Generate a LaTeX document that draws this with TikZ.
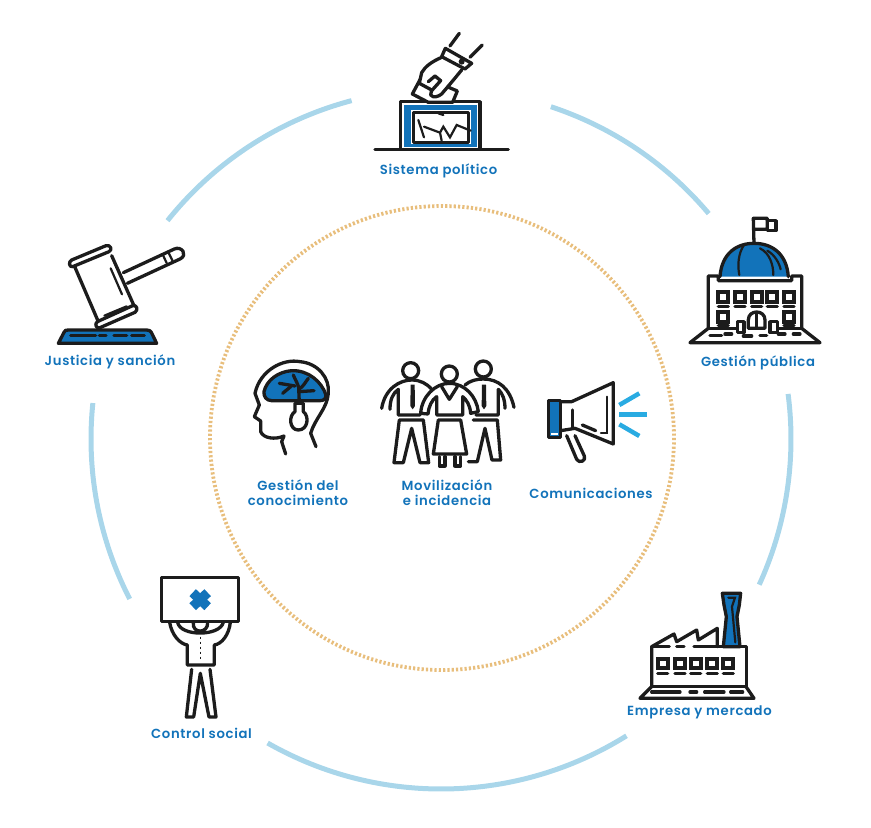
\documentclass[tikz,border=0pt]{standalone}
\usepackage{fontspec}
\setmainfont{Poppins}[LetterSpace=5, BoldFont={Poppins SemiBold}]
\definecolor{ringblue}{HTML}{A9D6EA}
\definecolor{ringtan}{HTML}{E8BE7C}
\definecolor{iconblue}{HTML}{1273BA}
\definecolor{rayblue}{HTML}{29ABE2}
\definecolor{iconblack}{HTML}{1C1C1C}
\tikzset{
  ringarc/.style={draw=ringblue, line width=5pt},
  iconline/.style={draw=iconblack, line width=3.3pt, line join=round, line cap=round},
  windowline/.style={draw=iconblack, line width=4.2pt},
  thinline/.style={draw=iconblack, line width=2.2pt, line cap=round},
  iconlabel/.style={text=iconblue, font=\fontsize{13.2}{15}\selectfont\bfseries, align=center, inner sep=0},
  zoomed/.style={x=0.3333pt, y=-0.3333pt},
}
\begin{document}
\begin{tikzpicture}[x=1pt, y=-1pt]
      \useasboundingbox (0,0) rectangle (871,828);
      \coordinate (center) at (441,439);
      \foreach \a/\b in {-71.7/-40.1, -7.4/24.6, 58/119.7, 152.8/185.9, 218.6/255.2}
        \draw [ringarc] (center) ++(\a:350) arc [start angle=\a, end angle=\b, radius=350];
      \draw [draw=ringtan, line width=3.8pt, dash pattern=on 2.2pt off 2.1pt] (442,438) circle [radius=232];
      % sistema politico
      \begin{scope}[shift={(360,20)}, zoomed]
        \draw [iconline] (122,388) -- (122,245) -- (360,245) -- (360,388);
        \fill [iconblue] (132,256) rectangle (351,381);
        \fill [white] (152,269) rectangle (333,372);
        \draw [iconline] (160,277) rectangle (325,368);
        \draw [iconline] (45,388) -- (445,388);
        \draw [thinline] (175,300) -- (192,352);
        \draw [thinline] (192,320) -- (240,338) -- (245,362);
        \draw [thinline] (240,338) -- (250,320) -- (270,352) -- (290,315) -- (332,332);
        \draw [thinline] (235,280) -- (250,285);
        \draw [iconline, fill=white] (186,168) -- (157,222) -- (205,247) -- (278,247) -- (292,213) -- cycle;
        \draw [iconline, fill=white] (245,112) .. controls (215,125) and (195,140) .. (185,158) -- (178,190) -- (215,210) -- (212,225) .. controls (220,235) and (235,230) .. (245,222) -- (282,178) -- (305,150);
        \draw [iconline] (215,212) -- (242,182) -- (225,168) -- (205,185);
        \draw [iconline, fill=white] (256,85) -- (335,130) -- (315,147) -- (245,110) -- cycle;
        \fill [iconblack] (305,125) circle [radius=9];
        \draw [iconline] (270,78) -- (298,40);
        \draw [iconline] (330,112) -- (367,75);
      \end{scope}
      % gestion publica
      \begin{scope}[shift={(680,210)}, zoomed]
        \draw [iconline] (222,100) -- (220,25) -- (262,25) -- (262,58) -- (222,58);
        \draw [iconline] (262,32) -- (288,32) -- (288,62) -- (262,62);
        \fill [iconblue] (120,200) .. controls (125,130) and (170,100) .. (222,100) .. controls (275,100) and (320,130) .. (325,200) -- cycle;
        \draw [iconline] (120,200) .. controls (125,130) and (170,100) .. (222,100) .. controls (275,100) and (320,130) .. (325,200);
        \draw [thinline] (192,105) .. controls (175,130) and (172,165) .. (178,195);
        \draw [thinline] (240,115) .. controls (270,130) and (280,165) .. (280,195);
        \draw [thinline] (262,122) .. controls (285,135) and (298,160) .. (302,178);
        \draw [iconline] (30,398) -- (85,355) -- (85,198) -- (115,198) -- (115,212) -- (335,212) -- (335,198) -- (365,198) -- (365,355) -- (420,398) -- cycle;
        \draw [iconline] (85,355) -- (172,355);
        \draw [iconline] (292,355) -- (365,355);
        \foreach \x in {115,165,215,262,312} {
          \draw [windowline] (\x,245) rectangle ++(30,30);
          \draw [iconline] (\x,289) -- ++(30,0);
        }
        \foreach \x in {115,312} {
          \draw [windowline] (\x,305) rectangle ++(30,30);
          \draw [iconline] (\x,347) -- ++(30,0);
        }
        \draw [iconline] (205,355) -- (205,330) .. controls (205,298) and (255,298) .. (255,330) -- (255,355) -- cycle;
        \draw [iconline] (230,310) -- (230,355);
        \draw [iconline, fill=white] (172,335) rectangle (192,368);
        \draw [iconline, fill=white] (270,335) rectangle (292,368);
        \foreach \x/\y/\w in {90/376/35, 135/372/20, 190/378/25, 240/376/20, 295/372/20, 340/372/20}
          \draw [iconline] (\x,\y) -- ++(\w,0);
      \end{scope}
      % empresa y mercado
      \begin{scope}[shift={(620,585)}, zoomed]
        \draw [iconline, fill=iconblue] (307,25) -- (362,25) -- (358,60) -- (351,95) -- (360,185) -- (310,185) -- (319,95) -- (312,60) -- cycle;
        \draw [thinline] (325,38) -- (345,38) -- (336,65) -- (346,172);
        \draw [iconline] (95,305) -- (95,185) -- (162,147) -- (170,170) -- (230,135) -- (235,165) -- (292,130) -- (292,185);
        \draw [iconline] (95,185) -- (148,185);
        \draw [iconline] (170,185) -- (192,185);
        \draw [iconline] (222,185) -- (380,185) -- (380,305) -- (95,305);
        \foreach \x in {113,165,212,262,310} {
          \draw [windowline] (\x,222) rectangle ++(30,28);
          \draw [iconline] (\x,265) -- ++(30,0);
        }
        \draw [iconline] (95,305) -- (60,340) -- (402,340) -- (378,305);
        \foreach \x/\w in {95/85, 210/20, 254/58, 332/36}
          \draw [iconline] (\x,321) -- ++(\w,0);
      \end{scope}
      % control social
      \begin{scope}[shift={(145,570)}, zoomed]
        \draw [iconline] (50,22) rectangle (280,155);
        \draw [iconblue, line width=9.5pt] (143,68) -- (188,110);
        \draw [iconblue, line width=9.5pt] (188,68) -- (143,110);
        \draw [iconline] (74,157) .. controls (80,195) and (105,222) .. (127,225) -- (127,285) -- (208,285) -- (208,225) .. controls (230,222) and (252,195) .. (256,157);
        \draw [iconline] (98,157) .. controls (105,200) and (225,200) .. (235,157);
        \draw [iconline] (145,157) .. controls (140,192) and (190,192) .. (188,157);
        \draw [iconline, line width=1.4pt, dash pattern=on 2pt off 3pt, line cap=butt] (167,200) -- (167,272);
        \draw [iconline] (140,298) -- (124,441) -- (146,441) -- (166,310) -- (192,441) -- (213,441) -- (195,298);
      \end{scope}
      % justicia y sancion
      \begin{scope}[shift={(40,235)}, zoomed]
        \draw [iconline] (105,97) -- (175,260);
        \draw [iconline] (215,62) -- (282,212);
        \draw [iconline] (98,95) -- (207,50) .. controls (218,45) and (212,28) .. (198,32) -- (95,75) .. controls (84,80) and (88,98) .. (98,95);
        \draw [iconline] (180,278) -- (285,232) .. controls (296,225) and (290,208) .. (278,212) -- (172,260) .. controls (162,268) and (170,282) .. (180,278);
        \draw [thinline] (212,100) -- (246,178);
        \draw [thinline] (193,242) -- (260,214);
        \draw [iconline] (250,113) -- (403,42) .. controls (425,32) and (445,60) .. (420,72) -- (262,145);
        \draw [thinline] (368,58) -- (380,84);
        \draw [thinline] (385,52) -- (397,76);
        \draw [iconline, fill=iconblue] (55,325) -- (72,292) .. controls (74,286) and (78,285) .. (85,285) -- (320,285) .. controls (328,285) and (332,288) .. (334,292) -- (350,325) -- cycle;
        \foreach \x/\w in {92/75, 178/20, 222/38, 275/38}
          \draw [iconline] (\x,302) -- ++(\w,0);
      \end{scope}
      % gestion del conocimiento
      \begin{scope}[shift={(240,350)}, zoomed]
        \draw [iconline, fill=iconblue] (72,125) .. controls (80,90) and (115,65) .. (155,62) .. controls (205,60) and (245,95) .. (258,135) .. controls (258,148) and (250,152) .. (240,152) -- (95,152) .. controls (80,152) and (70,140) .. (72,125) -- cycle;
        \draw [iconline] (45,130) .. controls (60,60) and (130,25) .. (180,35) .. controls (235,40) and (270,85) .. (265,130) .. controls (262,175) and (225,205) .. (212,250) -- (228,290);
        \draw [iconline] (45,130) -- (58,165) -- (43,200) -- (62,213) -- (62,245) .. controls (70,265) and (105,270) .. (132,258) -- (125,275) -- (137,312);
        \draw [iconline] (178,160) -- (176,112) .. controls (172,98) and (165,88) .. (160,75);
        \draw [iconline] (176,118) .. controls (190,110) and (195,98) .. (205,85);
        \draw [iconline] (165,108) -- (118,100);
        \draw [iconline] (152,110) -- (128,130);
        \draw [iconline] (176,125) -- (222,122);
        \draw [iconline] (165,160) -- (190,160) -- (190,185) .. controls (208,197) and (205,240) .. (175,240) .. controls (148,240) and (145,197) .. (165,185) -- cycle;
      \end{scope}
      % movilizacion
      \begin{scope}[shift={(370,350)}, zoomed]
        \draw [iconline] (122,62) circle [radius=24];
        \draw [iconline] (238,72) circle [radius=24];
        \draw [iconline] (340,57) circle [radius=24];
        \draw [iconline] (35,175) .. controls (45,115) and (90,90) .. (125,90) .. controls (150,90) and (170,100) .. (185,118);
        \draw [iconline] (60,178) .. controls (60,150) and (68,130) .. (85,118) -- (85,195) -- (150,195);
        \draw [iconline] (285,105) .. controls (300,92) and (320,87) .. (340,87) .. controls (385,87) and (420,115) .. (432,172);
        \draw [iconline] (405,175) .. controls (405,150) and (398,130) .. (385,118) -- (385,195) -- (318,195);
        \draw [iconline] (88,210) -- (160,210) -- (176,338) -- (150,338) -- (125,235) -- (100,338) -- (72,338) -- cycle;
        \draw [iconline] (310,210) -- (382,210) -- (392,330) -- (366,330) -- (345,235) -- (322,335) -- (295,335);
        \fill [iconblack] (122,104) -- (134,104) -- (135,168) -- (128,178) -- (121,168) -- cycle;
        \fill [iconblack] (336,104) -- (348,104) -- (349,168) -- (342,178) -- (335,168) -- cycle;
        \draw [iconline, fill=white] (152,190) .. controls (155,140) and (195,100) .. (238,100) .. controls (285,100) and (320,140) .. (325,185) -- (302,190) .. controls (300,165) and (290,150) .. (278,140) -- (278,195) -- (200,195) -- (200,140) .. controls (185,150) and (176,170) .. (174,192) -- cycle;
        \draw [iconline] (215,110) -- (238,148) -- (262,110);
        \draw [iconline, fill=white] (205,210) -- (272,210) -- (290,312) -- (190,312) -- cycle;
        \draw [iconline] (208,320) -- (208,348) -- (225,348) -- (225,320);
        \draw [iconline] (255,320) -- (255,348) -- (272,348) -- (272,320);
      \end{scope}
      % comunicaciones
      \begin{scope}[shift={(525,370)}, zoomed]
        \fill [iconblue] (72,95) rectangle (104,200);
        \fill [white] (78,188) rectangle (100,195);
        \draw [iconline] (70,92) rectangle (107,203);
        \draw [iconline] (107,95) -- (140,95) -- (265,38) -- (265,222) -- (150,175) -- (107,182);
        \draw [iconline] (142,120) -- (142,175);
        \draw [iconline] (172,165) -- (212,182);
        \draw [thinline] (245,80) -- (245,190) -- (228,190);
        \draw [iconline] (125,197) -- (155,268) .. controls (162,282) and (185,272) .. (178,258) -- (150,197);
        \draw [rayblue, line width=4.5pt] (283,105) -- (343,70);
        \draw [rayblue, line width=4.5pt] (283,134) -- (367,134);
        \draw [rayblue, line width=4.5pt] (283,163) -- (343,198);
      \end{scope}
      \node [iconlabel, anchor=base] (politico) at (438.5,174) {Sistema político};
      \node [iconlabel, anchor=base] (publica) at (758,366) {Gestión pública};
      \node [iconlabel, anchor=base] (empresa) at (699.5,715) {Empresa y mercado};
      \node [iconlabel, anchor=base] (control) at (201.5,738) {Control social};
      \node [iconlabel, anchor=base] (justicia) at (110,365) {Justicia y sanción};
      \node [iconlabel] (conocimiento) at (298,492.5) {Gestión del\\conocimiento};
      \node [iconlabel] (movilizacion) at (447,492.5) {Movilización\\e incidencia};
      \node [iconlabel, anchor=base] (comunicaciones) at (591,498) {Comunicaciones};
    \end{tikzpicture}
\end{document}
